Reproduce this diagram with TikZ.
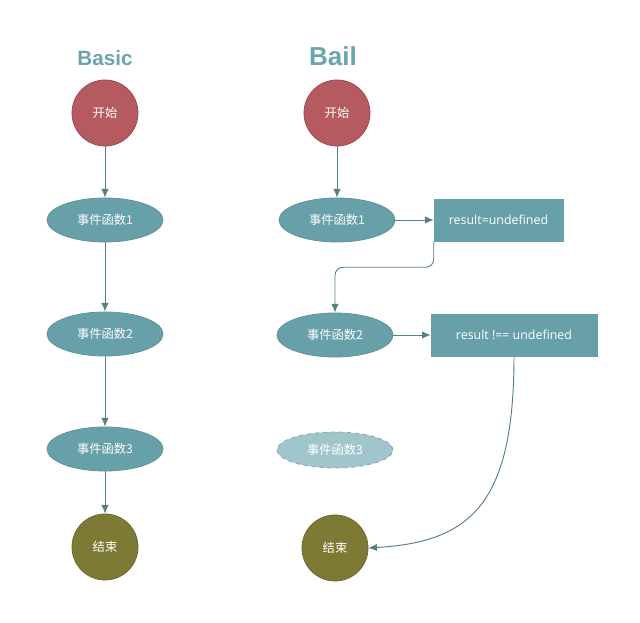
\documentclass[tikz,border=0pt]{standalone}
\usepackage{fontspec}
\setmainfont{Open Sans}
\newfontfamily\cjk{Noto Sans CJK SC}
\newfontfamily\titlefont{Liberation Sans}
\usetikzlibrary{shapes.geometric,arrows.meta}
\definecolor{startred}{HTML}{B55A5E}
\definecolor{startredB}{HTML}{9A4B50}
\definecolor{tealf}{HTML}{68A0A9}
\definecolor{tealB}{HTML}{5E939B}
\definecolor{olivef}{HTML}{7D7A35}
\definecolor{oliveB}{HTML}{6B6930}
\definecolor{lightteal}{HTML}{A0C5CB}
\definecolor{lighttealB}{HTML}{7FAAB1}
\definecolor{linec}{HTML}{557F82}
\definecolor{titlec}{HTML}{6AA5AD}
\tikzset{
  circstart/.style={circle, fill=startred, draw=startredB, line width=0.6pt, minimum size=49.5pt, inner sep=0pt, text=white, font=\cjk\fontsize{9.2}{10}\selectfont},
  circend/.style={circle, fill=olivef, draw=oliveB, line width=0.6pt, minimum size=49.5pt, inner sep=0pt, text=white, font=\cjk\fontsize{9.2}{10}\selectfont},
  fn/.style={ellipse, fill=tealf, draw=tealB, line width=0.6pt, minimum width=87pt, minimum height=33pt, inner sep=0pt, text=white, font=\cjk\fontsize{9.2}{10}\selectfont},
  fnskip/.style={ellipse, fill=lightteal, draw=lighttealB, dashed, line width=0.6pt, minimum width=87pt, minimum height=27pt, inner sep=0pt, text=white, font=\cjk\fontsize{9.2}{10}\selectfont},
  res/.style={rectangle, fill=tealf, draw=tealf, minimum height=31.5pt, inner sep=0pt, text=white, font=\fontsize{9.3}{11}\selectfont},
  conn/.style={draw=linec, line width=0.7pt, -{Latex[length=6.5pt,width=5.5pt]}},
  ttl/.style={text=titlec, font=\titlefont\bfseries},
}
\begin{document}
\begin{tikzpicture}[x=0.75pt,y=-0.75pt]
\useasboundingbox (0,0) rectangle (640,623);
% titles
\node[ttl, font=\titlefont\bfseries\fontsize{15.5}{18}\selectfont] (tb) at (105,58) {Basic};
\node[ttl, font=\titlefont\bfseries\fontsize{19.5}{22}\selectfont] (tl) at (333,56) {Bail};
% Basic column
\node[circstart] (bs) at (105,113) {开始};
\node[fn] (b1) at (105,220) {事件函数1};
\node[fn] (b2) at (105,334) {事件函数2};
\node[fn] (b3) at (105,449) {事件函数3};
\node[circend] (be) at (105,547) {结束};
\draw[conn] (bs) -- (b1);
\draw[conn] (b1) -- (b2);
\draw[conn] (b2) -- (b3);
\draw[conn] (b3) -- (be);
% Bail column
\node[circstart] (ls) at (337,113) {开始};
\node[fn] (l1) at (337,220) {事件函数1};
\node[fn] (l2) at (335,335) {事件函数2};
\node[fnskip] (l3) at (335,450) {事件函数3};
\node[circend] (le) at (335,548) {结束};
\node[res, minimum width=96.75pt] (r1) at (498.5,220) {result=undefined};
\node[res, minimum width=124.5pt] (r2) at (514,335) {result !== undefined};
\draw[conn] (ls) -- (l1);
\draw[conn] (l1) -- (r1);
\draw[conn] (l2) -- (r2);
\draw[conn, rounded corners=6pt] (r1.south west) -- ++(0,26) -| (l2.north);
\draw[conn] (r2.south) .. controls (514,505) and (470,542) .. (le.east);
\end{tikzpicture}
\end{document}
